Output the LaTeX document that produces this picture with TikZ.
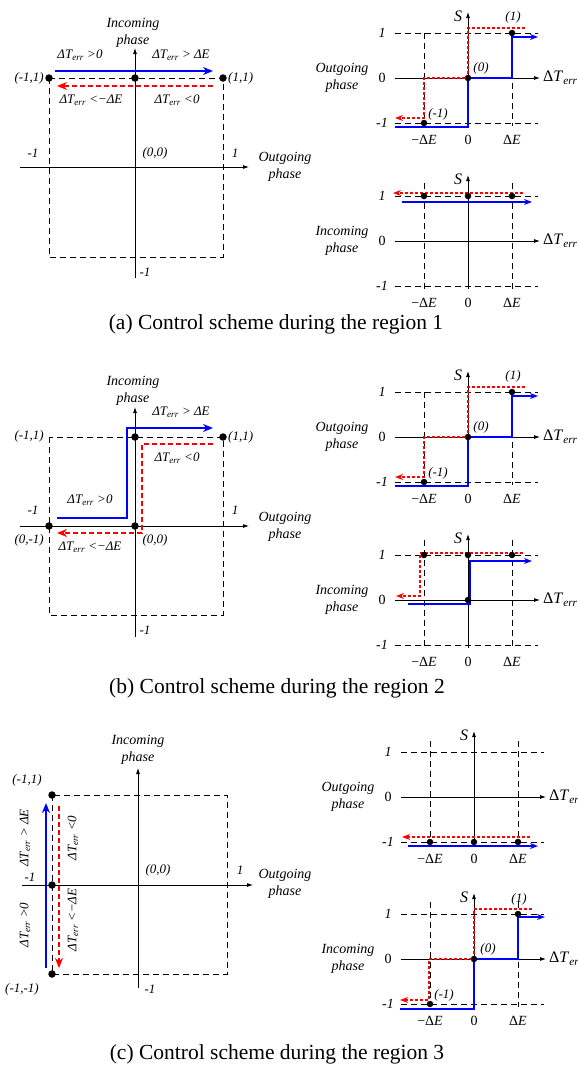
\documentclass[tikz,border=0pt]{standalone}
\usepackage{fontspec}
\setmainfont{Liberation Serif}
\usetikzlibrary{arrows.meta}
\newcommand{\dTerr}{Δ\textit{T}\textsubscript{\textit{err}}}
\newcommand{\dE}{Δ\textit{E}}

\begin{document}
\begin{tikzpicture}[
    x=1pt, y=-1pt,
    axisline/.style={black, line width=0.8pt, -{Latex[length=6pt,width=4pt]}},
    gridline/.style={black, line width=0.7pt, dash pattern=on 6pt off 4pt},
    bluepath/.style={blue, line width=2.6pt, -{Stealth[length=10pt,width=8pt]}},
    redpath/.style={red, line width=2.6pt, dash pattern=on 5pt off 3pt, -{Stealth[length=10pt,width=8pt]}},
    bluestep/.style={blue, line width=2pt, -{Stealth[length=8pt,width=6pt]}},
    redstep/.style={red, line width=1.6pt, dash pattern=on 3pt off 2pt, -{Stealth[length=8pt,width=6pt]}},
    dot/.style={circle, fill=black, inner sep=0pt, minimum size=6.5pt},
    lbl/.style={font=\fontsize{13}{15}\selectfont\itshape, inner sep=1pt},
    phaselbl/.style={font=\fontsize{14}{17}\selectfont\itshape, align=center, inner sep=0pt},
    tick/.style={font=\fontsize{14}{16}\selectfont, inner sep=0.5pt},
    slbl/.style={font=\fontsize{16}{18}\selectfont\itshape, inner sep=1pt},
    axislbl/.style={font=\fontsize{16}{18}\selectfont, anchor=west, inner sep=1pt},
    caption/.style={font=\fontsize{21.5}{24}\selectfont, inner sep=0pt}
]
\clip (0,0) rectangle (578,1071);

% ==================== RIGHT FRAMES (S versus error) ====================
\foreach \ox/\oy/\phs/\ext [count=\k] in {468/78/Outgoing/45, 468/241/Incoming/58, 468/437/Outgoing/45, 468/600/Incoming/60, 474/797/Outgoing/56, 474/959/Incoming/57} {
  \begin{scope}[shift={(\ox,\oy)}]
    \draw[gridline] (-73,-45) -- (70,-45);
    \draw[gridline] (-73,45) -- (70,45);
    \draw[gridline] (-44,-\ext) -- (-44,48);
    \draw[gridline] (44,-\ext) -- (44,48);
    \draw[axisline] (-73,0) -- (72,0);
    \draw[axisline] (0,48) -- (0,-66);
    \node[tick] (one\k) at (-86,-45) {\textit{1}};
    \node[tick] (zero\k) at (-86,0) {0};
    \node[tick] (mone\k) at (-86,45) {\textit{-1}};
    \node[phaselbl] (phase\k) at (-126,0) {\phs\\phase};
    \node[tick] (mde\k) at (-44,62) {−\dE};
    \node[tick] (orig\k) at (0,62) {0};
    \node[tick] (pde\k) at (44,62) {\dE};
    \node[slbl] (S\k) at (-10,-62) {S};
    \node[axislbl] (err\k) at (74,0) {\dTerr};
  \end{scope}
}

% ==================== REGION 1 ====================
\begin{scope}[shift={(135,167)}]
  \draw[gridline] (-86,-89) rectangle (88,90);
  \draw[axisline] (-115,0) -- (114,0);
  \draw[axisline] (0,111) -- (0,-119);
  \draw[bluepath] (-80,-96) -- (78,-96);
  \draw[redpath] (78,-81) -- (-78,-81);
  \node[dot, minimum size=7.5pt] (a_m1) at (-86,-89) {};
  \node[dot, minimum size=7.5pt] (a_01) at (0,-89) {};
  \node[dot, minimum size=7.5pt] (a_11) at (88,-89) {};
\end{scope}
\node[phaselbl] (inA) at (133,33) {Incoming\\phase};
\node[phaselbl] (outA) at (285,167) {Outgoing\\phase};
\node[lbl] (lA1) at (80,55) {\dTerr\ >0};
\node[lbl] (lA2) at (181,55) {\dTerr\ > \dE};
\node[lbl] (lA3) at (91,100) {\dTerr\ <−\dE};
\node[lbl] (lA4) at (177,100) {\dTerr\ <0};
\node[lbl, anchor=east] (cA1) at (45,78) {(-1,1)};
\node[lbl, anchor=west] (cA2) at (227,78) {(1,1)};
\node[lbl] (tA1) at (33,153) {-1};
\node[lbl] (tA2) at (155,153) {(0,0)};
\node[lbl] (tA3) at (235,153) {1};
\node[lbl] (tA4) at (145,272) {-1};

\begin{scope}[shift={(468,78)}]
  \draw[redstep] (57,-50) -- (0,-50) -- (0,0) -- (-44,0) -- (-44,40) -- (-73,40);
  \draw[bluestep] (-73,49) -- (0,49) -- (0,0) -- (44,0) -- (44,-41) -- (70,-41);
  \node[dot] (ra1) at (44,-45) {};
  \node[dot] (ra0) at (0,0) {};
  \node[dot] (ram) at (-44,45) {};
  \node[lbl] (la1) at (45,-61) {(1)};
  \node[lbl] (la0) at (13,-10) {(0)};
  \node[lbl] (lam) at (-30,36) {(-1)};
\end{scope}

\begin{scope}[shift={(468,241)}]
  \draw[redstep] (55,-48) -- (-75,-48);
  \draw[bluestep] (-66,-39) -- (64,-39);
  \node[dot] (sa1) at (-44,-45) {};
  \node[dot] (sa2) at (0,-45) {};
  \node[dot] (sa3) at (44,-45) {};
\end{scope}
\node[caption] (capA) at (276,324) {(a) Control scheme during the region 1};

% ==================== REGION 2 ====================
\begin{scope}[shift={(135,526)}]
  \draw[gridline] (-86,-89) rectangle (88,89);
  \draw[axisline] (-115,0) -- (114,0);
  \draw[axisline] (0,111) -- (0,-119);
  \draw[bluepath] (-78,-8) -- (-8,-8) -- (-8,-98) -- (78,-98);
  \draw[redpath] (78,-82) -- (7,-82) -- (7,7) -- (-78,7);
  \node[dot, minimum size=7.5pt] (b_01) at (0,-89) {};
  \node[dot, minimum size=7.5pt] (b_11) at (88,-89) {};
  \node[dot, minimum size=7.5pt] (b_m0) at (-86,0) {};
  \node[dot, minimum size=7.5pt] (b_00) at (0,0) {};
\end{scope}
\node[phaselbl] (inB) at (133,391) {Incoming\\phase};
\node[phaselbl] (outB) at (285,527) {Outgoing\\phase};
\node[lbl] (lB1) at (181,412) {\dTerr\ > \dE};
\node[lbl] (lB2) at (177,458) {\dTerr\ <0};
\node[lbl] (lB3) at (90,500) {\dTerr\ >0};
\node[lbl] (lB4) at (90,547) {\dTerr\ <−\dE};
\node[lbl, anchor=east] (cB1) at (45,436) {(-1,1)};
\node[lbl, anchor=west] (cB2) at (227,437) {(1,1)};
\node[lbl, anchor=east] (cB3) at (45,540) {(0,-1)};
\node[lbl] (tB1) at (33,510) {-1};
\node[lbl] (tB2) at (155,540) {(0,0)};
\node[lbl] (tB3) at (235,510) {1};
\node[lbl] (tB4) at (145,630) {-1};

\begin{scope}[shift={(468,437)}]
  \draw[redstep] (57,-50) -- (0,-50) -- (0,0) -- (-44,0) -- (-44,40) -- (-73,40);
  \draw[bluestep] (-73,49) -- (0,49) -- (0,0) -- (44,0) -- (44,-41) -- (70,-41);
  \node[dot] (rb1) at (44,-45) {};
  \node[dot] (rb0) at (0,0) {};
  \node[dot] (rbm) at (-44,45) {};
  \node[lbl] (lb1) at (45,-61) {(1)};
  \node[lbl] (lb0) at (13,-10) {(0)};
  \node[lbl] (lbm) at (-30,36) {(-1)};
\end{scope}

\begin{scope}[shift={(468,600)}]
  \draw[redstep] (55,-47) -- (-48,-47) -- (-48,-4) -- (-72,-4);
  \draw[bluestep] (-60,4) -- (2,4) -- (2,-39) -- (64,-39);
  \node[dot] (sb1) at (-44,-45) {};
  \node[dot] (sb2) at (0,-45) {};
  \node[dot] (sb3) at (44,-45) {};
  \node[dot] (sb4) at (0,0) {};
\end{scope}
\node[caption] (capB) at (277,688) {(b) Control scheme during the region 2};

% ==================== REGION 3 ====================
\begin{scope}[shift={(138,885)}]
  \draw[gridline] (-86,-90) rectangle (89,89);
  \draw[axisline] (-116,0) -- (115,0);
  \draw[axisline] (0,103) -- (0,-117);
  \draw[bluepath] (-92,83) -- (-92,-82);
  \draw[redpath] (-79,-79) -- (-79,83);
  \node[dot, minimum size=7.5pt] (c_m1) at (-86,-90) {};
  \node[dot, minimum size=7.5pt] (c_m0) at (-86,0) {};
  \node[dot, minimum size=7.5pt] (c_mm) at (-86,89) {};
\end{scope}
\node[phaselbl] (inC) at (138,750) {Incoming\\phase};
\node[phaselbl] (outC) at (285,884) {Outgoing\\phase};
\node[lbl, rotate=90] (lC1) at (25,838) {\dTerr\ > \dE};
\node[lbl, rotate=90] (lC2) at (25,925) {\dTerr\ >0};
\node[lbl, rotate=90] (lC3) at (73,838) {\dTerr\ <0};
\node[lbl, rotate=90] (lC4) at (73,920) {\dTerr\ <−\dE};
\node[lbl] (cC1) at (27,780) {(-1,1)};
\node[lbl] (cC2) at (22,989) {(-1,-1)};
\node[lbl] (tC1) at (30,877) {-1};
\node[lbl] (tC2) at (158,870) {(0,0)};
\node[lbl] (tC3) at (240,870) {1};
\node[lbl] (tC4) at (150,989) {-1};

\begin{scope}[shift={(474,797)}]
  \draw[redstep] (56,40) -- (-72,40);
  \draw[bluestep] (-66,49) -- (64,49);
  \node[dot] (sc1) at (-44,45) {};
  \node[dot] (sc2) at (0,45) {};
  \node[dot] (sc3) at (44,45) {};
\end{scope}

\begin{scope}[shift={(474,959)}]
  \draw[redstep] (58,-50) -- (0,-50) -- (0,0) -- (-45,0) -- (-45,41) -- (-74,41);
  \draw[bluestep] (-74,50) -- (0,50) -- (0,0) -- (44,0) -- (44,-42) -- (71,-42);
  \node[dot] (rc1) at (44,-45) {};
  \node[dot] (rc0) at (0,0) {};
  \node[dot] (rcm) at (-44,45) {};
  \node[lbl] (lc1) at (45,-60) {(1)};
  \node[lbl] (lc0) at (14,-10) {(0)};
  \node[lbl] (lcm) at (-30,36) {(-1)};
\end{scope}
\node[caption] (capC) at (277,1054) {(c) Control scheme during the region 3};

\end{tikzpicture}
\end{document}
